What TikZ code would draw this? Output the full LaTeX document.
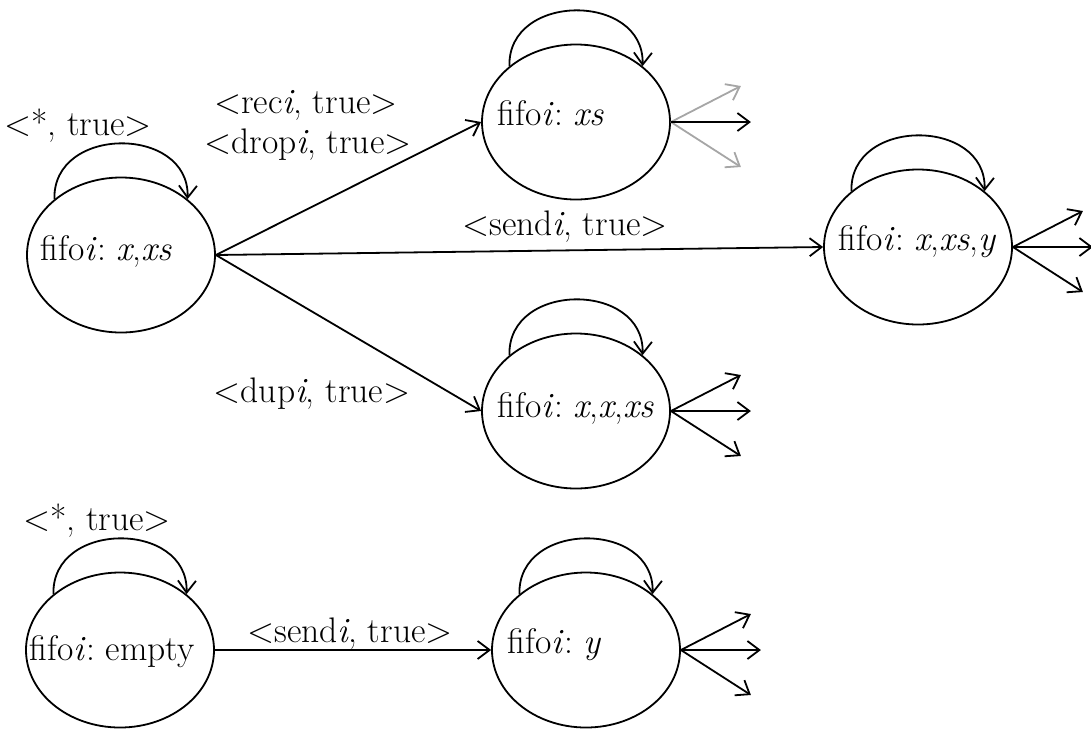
\documentclass[tikz,border=0pt]{standalone}
\usetikzlibrary{arrows.meta,shapes.geometric}
\begin{document}
\frenchspacing
\begin{tikzpicture}[x=1pt,y=-1pt,
  line width=1.8pt,
  every node/.style={inner sep=0pt},
  lbl/.style={font=\fontsize{35.5}{42}\selectfont, anchor=base},
  stxt/.style={font=\fontsize{35.5}{42}\selectfont, anchor=base west},
  state/.style={draw, ellipse, minimum width=188pt, minimum height=155pt},
  tr/.style={-{Straight Barb[length=12pt,width=18pt]}},
  loopedge/.style={tr},
  faint/.style={draw=black!35}]
\useasboundingbox (0,0) rectangle (1091,729);

% states
\node[state] (A) at (121,255) {};
\node[state] (B) at (576,122) {};
\node[state] (C) at (918,247) {};
\node[state] (D) at (576,411) {};
\node[state] (E) at (120,650) {};
\node[state] (F) at (586,650) {};

% state texts
\node[stxt] (tA) at (40,260)  {fifo\textit{i}: \textit{x},\textit{xs}};
\node[stxt] (tB) at (497,125) {fifo\textit{i}: \textit{xs}};
\node[stxt] (tC) at (838,250) {fifo\textit{i}: \textit{x},\textit{xs},\textit{y}};
\node[stxt] (tD) at (497,417) {fifo\textit{i}: \textit{x},\textit{x},\textit{xs}};
\node[stxt] (tE) at (29,660)  {fifo\textit{i}: empty};
\node[stxt] (tF) at (507,653) {fifo\textit{i}: \textit{y}};

% self loops
\foreach \s in {A,B,C,D,E,F}
  \draw[loopedge] (\s.140) .. controls +(-2,-74) and +(2,-74) .. (\s.40);

% transitions
\draw[tr] (A.east) -- (B.west);
\draw[tr] (A.east) -- (C.west);
\draw[tr] (A.east) -- (D.west);
\draw[tr] (E.east) -- (F.west);

% labels
\node[lbl] (lA)    at (78,135)  {<*, true>};
\node[lbl] (lE)    at (97,530)  {<*, true>};
\node[lbl] (lrec)  at (306,113) {<rec\textit{i}, true>};
\node[lbl] (ldrop) at (308,153) {<drop\textit{i}, true>};
\node[lbl] (lsend) at (565,235) {<send\textit{i}, true>};
\node[lbl] (ldup)  at (312,402) {<dup\textit{i}, true>};
\node[lbl] (lsE)   at (350,642) {<send\textit{i}, true>};

% outgoing fans
\foreach \s in {B,C,D,F} {
  \coordinate (\s u) at ([shift={(70,-36)}]\s.east);
  \coordinate (\s m) at ([shift={(80,0)}]\s.east);
  \coordinate (\s d) at ([shift={(70,45)}]\s.east);
}
\draw[tr, faint] (B.east) -- (Bu);
\draw[tr, faint] (B.east) -- (Bd);
\draw[tr] (B.east) -- (Bm);
\foreach \s in {C,D,F} {
  \draw[tr] (\s.east) -- (\s u);
  \draw[tr] (\s.east) -- (\s m);
  \draw[tr] (\s.east) -- (\s d);
}
\end{tikzpicture}
\end{document}
